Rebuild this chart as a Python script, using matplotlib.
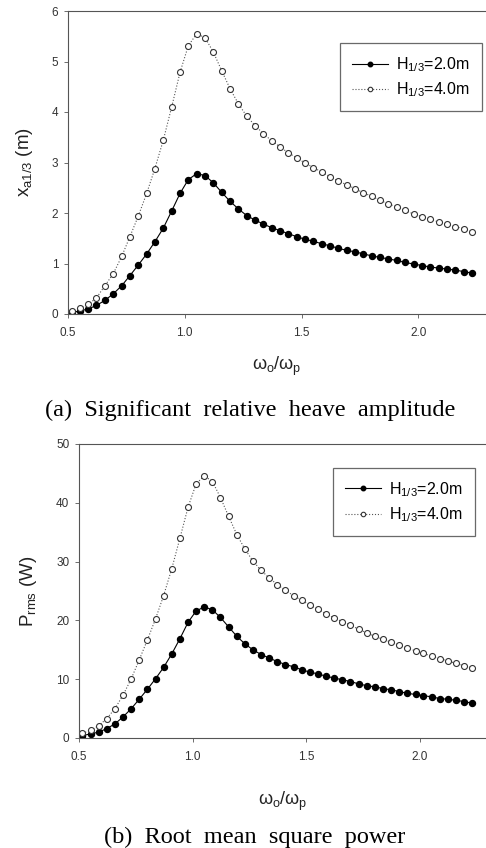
import numpy as np
import matplotlib.pyplot as plt

plt.rcParams['font.family'] = ['Liberation Sans', 'DejaVu Sans']
plt.rcParams['mathtext.fontset'] = 'dejavusans'
plt.rcParams['mathtext.default'] = 'regular'

# frequency ratio (evenly spaced grid)
freq_ratio = [0.515, 0.551, 0.587, 0.622, 0.658, 0.694, 0.730, 0.765, 0.801,
              0.837, 0.872, 0.908, 0.944, 0.980, 1.015, 1.051, 1.087, 1.122,
              1.158, 1.194, 1.230, 1.265, 1.301, 1.337, 1.372, 1.408, 1.444,
              1.480, 1.515, 1.551, 1.587, 1.622, 1.658, 1.694, 1.730, 1.765,
              1.801, 1.837, 1.872, 1.908, 1.944, 1.980, 2.015, 2.051, 2.087,
              2.122, 2.158, 2.194, 2.230]

# (a) significant relative heave amplitude (m)
heave_h2 = [0.03, 0.06, 0.10, 0.17, 0.27, 0.40, 0.56, 0.76, 0.97, 1.19,
            1.43, 1.70, 2.04, 2.39, 2.66, 2.78, 2.74, 2.60, 2.41, 2.23,
            2.08, 1.95, 1.86, 1.78, 1.71, 1.65, 1.59, 1.53, 1.48, 1.44,
            1.39, 1.35, 1.30, 1.26, 1.23, 1.19, 1.15, 1.12, 1.09, 1.06,
            1.02, 0.99, 0.96, 0.93, 0.91, 0.89, 0.87, 0.84, 0.81]
heave_h4 = [0.05, 0.11, 0.19, 0.32, 0.56, 0.80, 1.14, 1.53, 1.94, 2.39,
            2.88, 3.44, 4.10, 4.79, 5.31, 5.55, 5.47, 5.19, 4.82, 4.46,
            4.16, 3.92, 3.73, 3.57, 3.43, 3.31, 3.19, 3.09, 2.99, 2.90,
            2.81, 2.72, 2.63, 2.56, 2.48, 2.40, 2.33, 2.25, 2.18, 2.12,
            2.05, 1.98, 1.93, 1.88, 1.82, 1.78, 1.73, 1.69, 1.63]

# (b) root mean square power (W)
power_h2 = [0.4, 0.7, 1.0, 1.6, 2.4, 3.6, 5.0, 6.6, 8.3, 10.1,
            12.0, 14.3, 16.9, 19.7, 21.6, 22.3, 21.8, 20.5, 18.9, 17.3,
            16.0, 15.0, 14.2, 13.6, 13.0, 12.5, 12.1, 11.6, 11.2, 10.9,
            10.5, 10.2, 9.9, 9.6, 9.2, 8.9, 8.7, 8.4, 8.2, 7.9,
            7.6, 7.4, 7.2, 7.0, 6.7, 6.6, 6.4, 6.2, 5.9]
power_h4 = [0.8, 1.3, 2.1, 3.3, 5.0, 7.3, 10.1, 13.3, 16.7, 20.3,
            24.2, 28.8, 34.0, 39.3, 43.2, 44.6, 43.6, 40.9, 37.7, 34.6,
            32.1, 30.1, 28.5, 27.2, 26.1, 25.1, 24.2, 23.4, 22.6, 21.9,
            21.1, 20.4, 19.8, 19.2, 18.5, 17.9, 17.3, 16.8, 16.3, 15.8,
            15.3, 14.8, 14.4, 13.9, 13.5, 13.1, 12.7, 12.3, 11.9]

W, H = 486, 848
fig = plt.figure(figsize=(W / 100, H / 100), dpi=100)


def make_panel(rect, y2, y4, ylim, yticks, ylabel, ylabel_x, xpad, leg_anchor):
    ax = fig.add_axes(rect)
    ax.plot(freq_ratio, y2, '-', color='black', lw=0.8, marker='o', ms=4.3,
            mfc='black', mec='black', label=r'H$_{1/3}$=2.0m')
    ax.plot(freq_ratio, y4, ':', color='#555555', lw=0.8, marker='o', ms=4.3,
            mfc='white', mec='#333333', mew=0.8, label=r'H$_{1/3}$=4.0m')
    ax.set_xlim(0.5, 2.29)
    ax.set_ylim(*ylim)
    ax.set_xticks([0.5, 1.0, 1.5, 2.0])
    ax.set_xticklabels(['0.5', '1.0', '1.5', '2.0'])
    ax.set_yticks(yticks)
    ax.tick_params(direction='out', length=3, width=0.6, labelsize=8.5,
                   colors='#555555', labelcolor='#333333')
    ax.tick_params(axis='x', pad=6)
    ax.tick_params(axis='y', pad=4)
    for s in ['left', 'bottom', 'top']:
        ax.spines[s].set_color('#555555')
        ax.spines[s].set_linewidth(0.8)
    ax.spines['right'].set_visible(False)
    ax.set_xlabel(r'$\omega_o/\omega_p$', fontsize=13, color='#222222', labelpad=xpad)
    ax.set_ylabel(ylabel, fontsize=13.5, color='#222222', va='center')
    ax.yaxis.set_label_coords(ylabel_x, 0.5)
    leg = ax.legend(loc='upper right', bbox_to_anchor=leg_anchor, fontsize=11.5,
                    frameon=True, fancybox=False, handlelength=2.3,
                    borderpad=0.75, labelspacing=0.4, handletextpad=0.5,
                    borderaxespad=0, markerscale=0.75)
    leg.get_frame().set_edgecolor('#444444')
    leg.get_frame().set_linewidth(0.9)
    return ax


make_panel([68 / W, 1 - 314 / H, 1 - 68 / W, 303 / H], heave_h2, heave_h4,
           (0, 6), range(0, 7), r'x$_{a1/3}$ (m)', -0.103, 12, (0.99, 0.894))
make_panel([79 / W, 1 - 738 / H, 1 - 79 / W, 294 / H], power_h2, power_h4,
           (0, 50), range(0, 51, 10), r'P$_{rms}$ (W)', -0.125, 20, (0.973, 0.918))

fig.text(250 / W, 1 - 410 / H, '(a)  Significant  relative  heave  amplitude',
         family='Liberation Serif', fontsize=17.5, ha='center', va='center')
fig.text(255 / W, 1 - 837 / H, '(b)  Root  mean  square  power',
         family='Liberation Serif', fontsize=17.5, ha='center', va='center')

fig.savefig('out.png', dpi=100, facecolor='white')
